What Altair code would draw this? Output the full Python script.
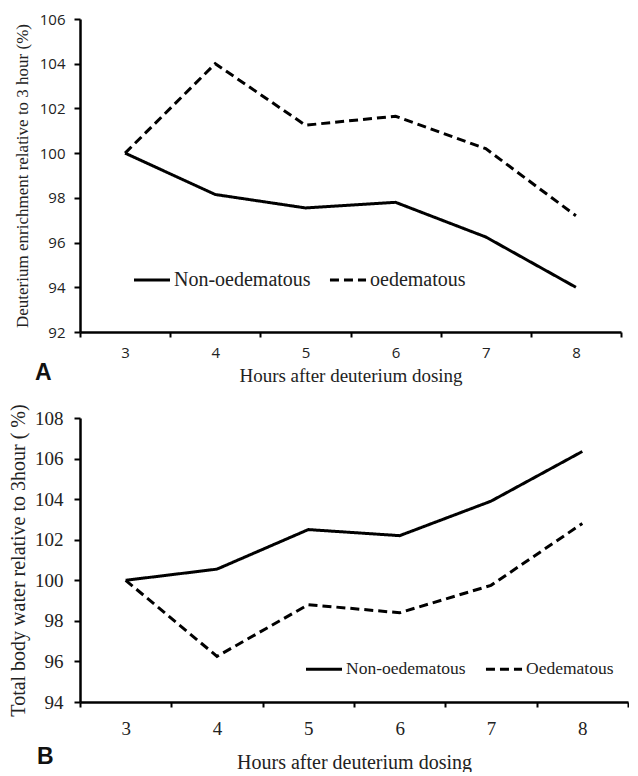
import altair as alt
import pandas as pd

hours = [3, 4, 5, 6, 7, 8]
a_non = [100.0, 98.15, 97.55, 97.8, 96.25, 94.0]
a_oed = [100.0, 104.0, 101.25, 101.65, 100.2, 97.2]
b_non = [100.0, 100.55, 102.5, 102.2, 103.9, 106.35]
b_oed = [100.0, 96.25, 98.8, 98.4, 99.75, 102.8]
a_series = ["Non-oedematous", "oedematous"]
b_series = ["Non-oedematous", "Oedematous"]
panel_letters = ["A", "B"]
x_axis_values = [2.5, 3, 3.5, 4, 4.5, 5, 5.5, 6, 6.5, 7, 7.5, 8, 8.5]
a_y_ticks = [92, 94, 96, 98, 100, 102, 104, 106]
b_y_ticks = [94, 96, 98, 100, 102, 104, 106, 108]

df_a = pd.DataFrame({
    "hour": hours * 2,
    "value": a_non + a_oed,
    "group": [a_series[0]] * 6 + [a_series[1]] * 6,
})
df_b = pd.DataFrame({
    "hour": hours * 2,
    "value": b_non + b_oed,
    "group": [b_series[0]] * 6 + [b_series[1]] * 6,
})

SERIF = "Liberation Serif"
SANS = "Open Sans"
tick_col = {"condition": {"test": "datum.value % 1 !== 0", "value": "black"},
            "value": "rgba(0,0,0,0)"}
label_expr = "datum.value % 1 === 0 ? format(datum.value, 'd') : ''"


def panel(df, series, letter, width, height, ydom, yvals, tickfont, tickfs,
          ytitle, ytitlefs, ytitlepad, ylabpad, xlabpad, xtitlefs, xtitlepad,
          legfs, legx, legy, legcolpad, letter_dx, letter_dy):
    x = alt.X("hour:Q",
              scale=alt.Scale(domain=[2.5, 8.5], nice=False, zero=False),
              axis=alt.Axis(values=x_axis_values, labelExpr=label_expr,
                            tickColor=tick_col, tickSize=5, tickWidth=2,
                            domainColor="black",
                            domainWidth=2.5, grid=False, labelFont=tickfont,
                            labelFontSize=tickfs, labelColor="#222",
                            labelPadding=xlabpad, labelOverlap=False,
                            labelFlush=False,
                            title="Hours after deuterium dosing",
                            titleFont=SERIF, titleFontSize=xtitlefs,
                            titleFontWeight="normal", titleColor="#222",
                            titlePadding=xtitlepad))
    y = alt.Y("value:Q",
              scale=alt.Scale(domain=ydom, nice=False, zero=False),
              axis=alt.Axis(values=yvals, tickSize=6, tickWidth=2,
                            tickColor="black", domainColor="black",
                            domainWidth=2.5, grid=False, labelFont=tickfont,
                            labelFontSize=tickfs, labelColor="#222",
                            labelPadding=ylabpad, labelFlush=False,
                            title=ytitle, titleFont=SERIF,
                            titleFontSize=ytitlefs, titleFontWeight="normal",
                            titleColor="#222", titlePadding=ytitlepad))
    dash = alt.StrokeDash(
        "group:N",
        scale=alt.Scale(domain=series, range=[[1, 0], [9, 5]]),
        legend=alt.Legend(orient="none", legendX=legx, legendY=legy,
                          direction="horizontal", title=None,
                          symbolType="stroke", symbolSize=1300,
                          symbolStrokeWidth=3, symbolStrokeColor="black",
                          labelFont=SERIF, labelFontSize=legfs,
                          labelColor="#222", labelOffset=2,
                          columnPadding=legcolpad, padding=0),
    )
    lines = alt.Chart(df).mark_line(color="black", strokeWidth=3,
                                    strokeCap="butt").encode(
        x=x, y=y, strokeDash=dash
    )
    lab_df = pd.DataFrame({"hour": [2.5], "value": [ydom[0]], "t": [letter]})
    label = alt.Chart(lab_df).mark_text(
        align="left", baseline="middle", font="Liberation Sans",
        fontWeight="bold", fontSize=23, color="#111",
        dx=letter_dx, dy=letter_dy,
    ).encode(x="hour:Q", y="value:Q", text="t:N")
    return alt.layer(lines, label).properties(width=width, height=height)


pa = panel(df_a, a_series, panel_letters[0], width=541, height=313,
           ydom=[92, 106], yvals=a_y_ticks, tickfont=SANS, tickfs=15,
           ytitle="Deuterium enrichment relative to 3 hour (%)",
           ytitlefs=17, ytitlepad=8, ylabpad=9, xlabpad=8, xtitlefs=19,
           xtitlepad=6, legfs=20, legx=52, legy=241, legcolpad=12,
           letter_dx=-45, letter_dy=41)
pb = panel(df_b, b_series, panel_letters[1], width=548, height=284,
           ydom=[94, 108], yvals=b_y_ticks, tickfont=SERIF, tickfs=19,
           ytitle="Total body water relative to 3hour ( %)",
           ytitlefs=20, ytitlepad=6, ylabpad=11, xlabpad=12, xtitlefs=20,
           xtitlepad=14, legfs=17.5, legx=224, legy=231, legcolpad=13,
           letter_dx=-43, letter_dy=55)

chart = alt.vconcat(pa, pb, spacing=18).resolve_scale(
    strokeDash="independent"
).resolve_legend(
    strokeDash="independent"
).properties(
    padding={"top": 4, "left": 0, "right": 0, "bottom": 0},
    background="white",
).configure_view(stroke=None)

chart.save("out.html", embed_options={"renderer": "svg", "actions": False})
